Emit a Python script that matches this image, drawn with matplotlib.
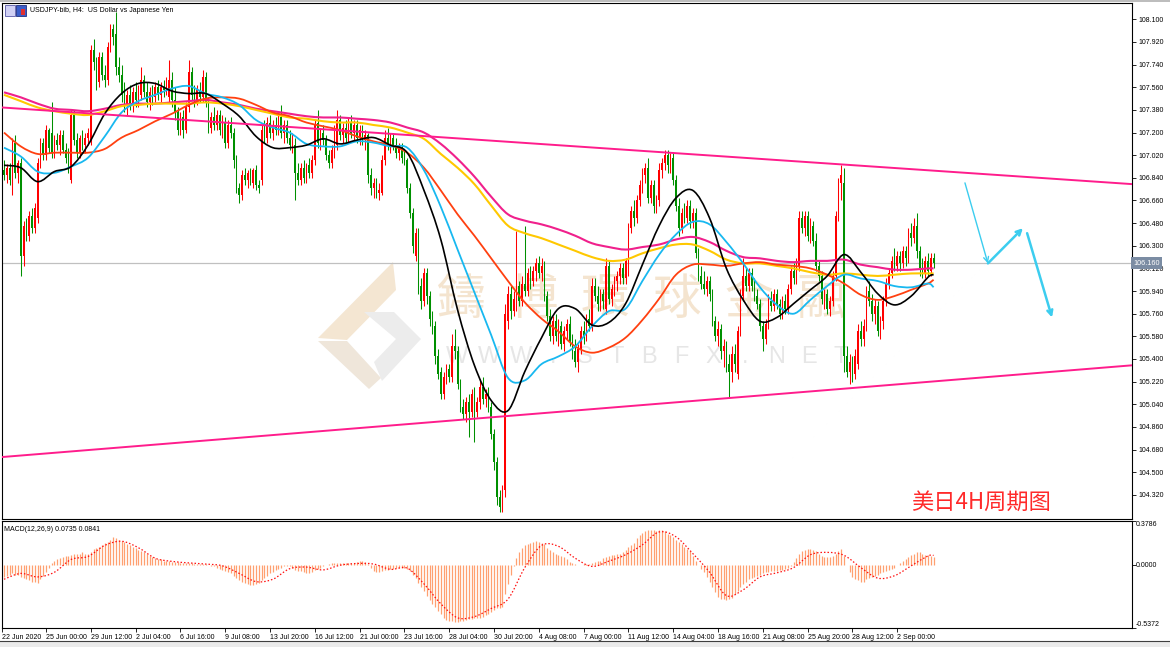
import matplotlib
matplotlib.use('Agg')
import matplotlib.pyplot as plt
import matplotlib.transforms as mtransforms
from matplotlib.patches import Rectangle, Polygon, PathPatch
from matplotlib.path import Path

plt.rcParams['font.family'] = ['Liberation Sans', 'DejaVu Sans']

# USDJPY H4 candles (bar 0 = left edge, 22 Jun)
opens = [
    106.90, 106.86, 106.92, 106.76, 107.12, 106.88, 106.96, 106.22, 106.46, 106.38,
    106.54, 106.44, 106.52, 106.96, 107.12, 107.02, 107.22, 107.20, 107.04, 107.14,
    107.10, 107.18, 107.06, 107.00, 106.82, 107.34, 107.14, 107.04, 107.16, 107.10,
    107.16, 107.14, 107.86, 107.76, 107.60, 107.80, 107.66, 107.62, 107.88, 108.02,
    107.98, 107.72, 107.66, 107.50, 107.42, 107.50, 107.42, 107.52, 107.46, 107.50,
    107.62, 107.52, 107.44, 107.52, 107.48, 107.56, 107.50, 107.56, 107.54, 107.48,
    107.62, 107.46, 107.36, 107.22, 107.32, 107.22, 107.40, 107.68, 107.50, 107.46,
    107.54, 107.48, 107.64, 107.44, 107.24, 107.32, 107.26, 107.34, 107.22, 107.28,
    107.12, 107.26, 107.20, 106.98, 106.76, 106.70, 106.86, 106.82, 106.88, 106.80,
    106.90, 106.78, 106.82, 107.22, 107.16, 107.28, 107.20, 107.26, 107.22, 107.32,
    107.20, 107.26, 107.16, 107.10, 107.10, 106.88, 106.82, 106.92, 106.84, 106.94,
    106.88, 106.98, 107.28, 107.12, 107.20, 107.14, 107.02, 106.96, 107.06, 107.10,
    107.30, 107.18, 107.24, 107.16, 107.28, 107.20, 107.26, 107.16, 107.22, 107.14,
    107.18, 106.86, 106.76, 106.80, 106.72, 106.72, 106.98, 107.16, 107.10, 107.16,
    107.10, 107.04, 107.08, 107.00, 106.98, 106.76, 106.56, 106.22, 106.40, 105.98,
    105.86, 106.08, 105.90, 105.72, 105.66, 105.42, 105.30, 105.12, 105.26, 105.32,
    105.26, 105.50, 105.46, 105.20, 105.02, 104.96, 105.06, 104.98, 105.12, 104.98,
    105.06, 105.18, 105.08, 105.12, 105.02, 104.80, 104.58, 104.30, 104.22, 104.36,
    105.70, 105.92, 105.78, 105.84, 105.98, 105.86, 106.00, 105.94, 106.08, 106.02,
    106.10, 106.16, 106.08, 106.14, 105.90, 105.74, 105.58, 105.70, 105.58, 105.66,
    105.52, 105.62, 105.68, 105.54, 105.46, 105.38, 105.48, 105.62, 105.58, 105.72,
    105.66, 105.98, 105.90, 105.84, 105.92, 105.80, 106.14, 105.88, 105.96, 106.02,
    106.06, 106.12, 106.04, 106.10, 106.44, 106.58, 106.52, 106.66, 106.78, 106.86,
    106.92, 106.68, 106.78, 106.62, 106.66, 106.90, 106.96, 107.02, 106.94, 107.00,
    106.82, 106.62, 106.44, 106.56, 106.52, 106.62, 106.50, 106.56, 106.24, 106.06,
    106.00, 105.96, 106.02, 105.92, 105.70, 105.58, 105.64, 105.46, 105.50, 105.36,
    105.30, 105.44, 105.28, 105.62, 105.90, 106.06, 105.98, 106.08, 105.98, 105.90,
    105.84, 105.66, 105.56, 105.68, 105.86, 105.82, 105.92, 105.84, 105.76, 105.86,
    105.80, 105.96, 106.10, 106.04, 106.14, 106.52, 106.44, 106.54, 106.38, 106.46,
    106.34, 106.14, 106.06, 105.88, 105.92, 105.80, 105.86, 106.06, 106.54, 106.80,
    106.80, 105.42, 105.30, 105.38, 105.28, 105.36, 105.62, 105.56, 105.66, 105.94,
    105.86, 105.76, 105.82, 105.62, 105.70, 105.86, 106.00, 106.08, 106.18, 106.14,
    106.22, 106.16, 106.26, 106.20, 106.40, 106.36, 106.46, 106.26, 106.12, 106.08,
    106.18, 106.10, 106.20,
]
highs = [
    106.98, 106.95, 106.96, 107.16, 107.18, 106.98, 107.00, 106.50, 106.52, 106.58,
    106.60, 106.64, 107.00, 107.16, 107.16, 107.26, 107.24, 107.44, 107.18, 107.20,
    107.22, 107.22, 107.12, 107.08, 107.38, 107.38, 107.20, 107.18, 107.22, 107.20,
    107.24, 107.90, 107.94, 107.80, 107.84, 107.84, 107.74, 107.92, 108.06, 108.06,
    108.16, 107.80, 107.74, 107.60, 107.54, 107.58, 107.56, 107.60, 107.58, 107.72,
    107.66, 107.60, 107.56, 107.58, 107.60, 107.62, 107.60, 107.62, 107.64, 107.78,
    107.68, 107.56, 107.40, 107.36, 107.38, 107.44, 107.78, 107.72, 107.58, 107.58,
    107.60, 107.70, 107.68, 107.48, 107.36, 107.40, 107.38, 107.38, 107.34, 107.32,
    107.30, 107.32, 107.24, 107.02, 106.80, 106.90, 106.92, 106.90, 106.92, 106.92,
    106.94, 106.82, 107.26, 107.30, 107.32, 107.34, 107.30, 107.32, 107.36, 107.42,
    107.30, 107.30, 107.22, 107.20, 107.16, 106.96, 106.96, 106.98, 106.96, 107.00,
    107.02, 107.30, 107.38, 107.24, 107.26, 107.18, 107.06, 107.10, 107.26, 107.38,
    107.34, 107.28, 107.30, 107.32, 107.34, 107.30, 107.30, 107.26, 107.26, 107.22,
    107.20, 106.92, 106.84, 106.84, 106.80, 107.02, 107.22, 107.24, 107.20, 107.20,
    107.16, 107.12, 107.12, 107.06, 107.00, 106.80, 106.60, 106.44, 106.44, 106.04,
    106.12, 106.12, 105.94, 105.78, 105.70, 105.48, 105.34, 105.30, 105.36, 105.36,
    105.60, 105.64, 105.50, 105.24, 105.08, 105.10, 105.12, 105.16, 105.18, 105.10,
    105.24, 105.26, 105.16, 105.18, 105.06, 104.84, 104.62, 104.36, 104.40, 105.84,
    105.98, 105.98, 105.94, 106.42, 106.02, 106.06, 106.46, 106.12, 106.14, 106.14,
    106.20, 106.22, 106.20, 106.18, 105.94, 105.80, 105.74, 105.76, 105.72, 105.70,
    105.66, 105.72, 105.74, 105.60, 105.56, 105.52, 105.66, 105.70, 105.76, 105.80,
    106.04, 106.04, 105.98, 105.96, 105.96, 106.20, 106.18, 106.00, 106.06, 106.10,
    106.16, 106.16, 106.20, 106.48, 106.62, 106.66, 106.70, 106.82, 106.92, 106.96,
    107.00, 106.82, 106.82, 106.70, 106.96, 107.00, 107.06, 107.06, 107.04, 107.04,
    106.86, 106.68, 106.60, 106.64, 106.66, 106.66, 106.60, 106.60, 106.28, 106.14,
    106.10, 106.06, 106.06, 105.96, 105.74, 105.70, 105.68, 105.56, 105.54, 105.44,
    105.50, 105.52, 105.66, 105.96, 106.20, 106.12, 106.12, 106.12, 106.04, 105.96,
    105.88, 105.70, 105.72, 105.92, 105.94, 105.96, 105.96, 105.88, 105.90, 105.92,
    106.00, 106.14, 106.16, 106.20, 106.58, 106.58, 106.58, 106.58, 106.52, 106.50,
    106.40, 106.18, 106.10, 105.96, 105.96, 105.90, 106.10, 106.58, 106.84, 106.94,
    106.92, 105.50, 105.44, 105.42, 105.48, 105.68, 105.70, 105.72, 105.98, 106.02,
    105.92, 105.88, 105.86, 105.74, 105.90, 106.04, 106.12, 106.22, 106.28, 106.26,
    106.26, 106.30, 106.30, 106.44, 106.48, 106.52, 106.56, 106.30, 106.20, 106.22,
    106.24, 106.24, 106.24,
]
lows = [
    106.82, 106.80, 106.78, 106.70, 106.84, 106.80, 106.06, 106.14, 106.34, 106.34,
    106.40, 106.40, 106.48, 106.92, 106.98, 106.98, 107.04, 107.00, 107.00, 107.06,
    107.02, 107.04, 106.96, 106.88, 106.80, 107.10, 107.00, 107.00, 107.06, 107.04,
    107.10, 107.10, 107.70, 107.54, 107.56, 107.62, 107.56, 107.58, 107.84, 107.90,
    107.66, 107.60, 107.44, 107.36, 107.34, 107.38, 107.36, 107.40, 107.40, 107.46,
    107.48, 107.40, 107.38, 107.42, 107.44, 107.46, 107.44, 107.48, 107.50, 107.44,
    107.40, 107.30, 107.18, 107.18, 107.16, 107.20, 107.36, 107.46, 107.40, 107.42,
    107.44, 107.44, 107.40, 107.20, 107.20, 107.22, 107.22, 107.18, 107.16, 107.08,
    107.08, 107.16, 106.92, 106.72, 106.64, 106.66, 106.78, 106.76, 106.78, 106.76,
    106.74, 106.72, 106.78, 107.12, 107.12, 107.16, 107.14, 107.18, 107.18, 107.16,
    107.12, 107.12, 107.06, 107.04, 106.66, 106.78, 106.78, 106.80, 106.80, 106.84,
    106.84, 106.94, 107.08, 107.06, 107.10, 106.98, 106.92, 106.92, 107.00, 107.06,
    107.14, 107.12, 107.12, 107.12, 107.16, 107.14, 107.12, 107.10, 107.10, 107.06,
    106.80, 106.70, 106.68, 106.68, 106.66, 106.70, 106.94, 107.06, 107.04, 107.06,
    107.00, 106.98, 106.96, 106.94, 106.72, 106.52, 106.24, 106.18, 105.92, 105.80,
    105.82, 105.84, 105.66, 105.60, 105.36, 105.24, 105.08, 105.08, 105.20, 105.22,
    105.22, 105.40, 105.16, 104.98, 104.92, 104.90, 104.78, 104.94, 104.74, 104.94,
    105.00, 105.04, 105.02, 104.98, 104.76, 104.52, 104.24, 104.18, 104.18, 104.30,
    105.64, 105.72, 105.74, 105.78, 105.82, 105.82, 105.90, 105.90, 105.96, 105.98,
    106.02, 106.04, 106.02, 105.86, 105.70, 105.54, 105.52, 105.54, 105.50, 105.48,
    105.46, 105.56, 105.50, 105.40, 105.34, 105.30, 105.44, 105.52, 105.54, 105.62,
    105.62, 105.86, 105.78, 105.78, 105.80, 105.76, 105.84, 105.82, 105.90, 105.94,
    106.00, 106.00, 106.00, 106.06, 106.40, 106.46, 106.48, 106.62, 106.72, 106.80,
    106.64, 106.64, 106.56, 106.56, 106.62, 106.84, 106.90, 106.88, 106.88, 106.78,
    106.58, 106.38, 106.40, 106.48, 106.48, 106.44, 106.44, 106.20, 106.02, 105.96,
    105.92, 105.90, 105.86, 105.66, 105.54, 105.50, 105.40, 105.34, 105.30, 105.10,
    105.22, 105.30, 105.24, 105.58, 105.86, 105.94, 105.94, 105.94, 105.86, 105.80,
    105.62, 105.46, 105.52, 105.64, 105.78, 105.78, 105.80, 105.72, 105.72, 105.76,
    105.76, 105.92, 106.00, 106.00, 106.10, 106.40, 106.38, 106.34, 106.32, 106.30,
    106.10, 106.02, 105.84, 105.80, 105.76, 105.74, 105.82, 106.02, 106.50, 106.66,
    105.30, 105.26, 105.20, 105.22, 105.24, 105.32, 105.50, 105.50, 105.62, 105.82,
    105.70, 105.68, 105.58, 105.56, 105.64, 105.82, 105.96, 106.04, 106.10, 106.10,
    106.10, 106.12, 106.14, 106.16, 106.30, 106.32, 106.20, 106.06, 106.04, 106.04,
    106.06, 106.06, 106.12,
]
closes = [
    106.86, 106.92, 106.82, 107.12, 106.88, 106.96, 106.22, 106.46, 106.38, 106.54,
    106.44, 106.60, 106.96, 107.12, 107.02, 107.22, 107.08, 107.04, 107.14, 107.10,
    107.18, 107.06, 107.00, 106.94, 107.34, 107.14, 107.04, 107.16, 107.10, 107.16,
    107.20, 107.86, 107.76, 107.60, 107.80, 107.66, 107.62, 107.88, 108.02, 107.96,
    107.72, 107.66, 107.50, 107.42, 107.50, 107.42, 107.52, 107.46, 107.54, 107.62,
    107.52, 107.44, 107.52, 107.48, 107.56, 107.50, 107.56, 107.54, 107.60, 107.62,
    107.46, 107.36, 107.22, 107.32, 107.22, 107.40, 107.68, 107.50, 107.46, 107.54,
    107.48, 107.64, 107.44, 107.24, 107.32, 107.26, 107.34, 107.22, 107.28, 107.12,
    107.26, 107.20, 106.98, 106.76, 106.70, 106.86, 106.82, 106.88, 106.80, 106.90,
    106.78, 106.76, 107.22, 107.16, 107.28, 107.20, 107.26, 107.22, 107.32, 107.20,
    107.26, 107.16, 107.10, 107.16, 106.88, 106.82, 106.92, 106.84, 106.94, 106.88,
    106.98, 107.26, 107.12, 107.20, 107.14, 107.02, 106.96, 107.06, 107.22, 107.30,
    107.18, 107.24, 107.16, 107.28, 107.20, 107.26, 107.16, 107.22, 107.14, 107.18,
    106.86, 106.76, 106.80, 106.72, 106.74, 106.98, 107.16, 107.10, 107.16, 107.10,
    107.04, 107.08, 107.00, 106.98, 106.76, 106.56, 106.30, 106.40, 105.98, 105.86,
    106.08, 105.90, 105.72, 105.66, 105.42, 105.28, 105.12, 105.26, 105.32, 105.26,
    105.50, 105.46, 105.20, 105.02, 104.96, 105.06, 104.98, 105.12, 104.98, 105.06,
    105.18, 105.08, 105.12, 105.02, 104.80, 104.58, 104.30, 104.22, 104.30, 105.76,
    105.92, 105.78, 105.88, 105.98, 105.86, 106.00, 105.94, 106.08, 106.02, 106.10,
    106.16, 106.08, 106.14, 105.90, 105.74, 105.58, 105.70, 105.58, 105.66, 105.52,
    105.62, 105.68, 105.54, 105.46, 105.38, 105.48, 105.62, 105.58, 105.72, 105.66,
    105.98, 105.90, 105.84, 105.92, 105.86, 106.14, 105.88, 105.96, 106.02, 106.06,
    106.12, 106.04, 106.18, 106.44, 106.58, 106.52, 106.66, 106.78, 106.88, 106.92,
    106.68, 106.78, 106.62, 106.66, 106.90, 106.96, 107.02, 106.94, 107.00, 106.82,
    106.62, 106.44, 106.56, 106.52, 106.62, 106.50, 106.56, 106.24, 106.06, 106.00,
    105.96, 106.02, 105.92, 105.70, 105.58, 105.64, 105.46, 105.50, 105.36, 105.30,
    105.44, 105.36, 105.62, 105.90, 106.06, 105.98, 106.08, 105.98, 105.90, 105.84,
    105.66, 105.56, 105.68, 105.86, 105.82, 105.92, 105.84, 105.76, 105.86, 105.80,
    105.96, 106.10, 106.04, 106.16, 106.52, 106.44, 106.54, 106.38, 106.46, 106.34,
    106.14, 106.06, 105.88, 105.92, 105.80, 105.86, 106.06, 106.54, 106.80, 106.86,
    105.42, 105.30, 105.38, 105.28, 105.42, 105.62, 105.56, 105.66, 105.94, 105.86,
    105.76, 105.82, 105.62, 105.70, 105.86, 106.00, 106.08, 106.18, 106.14, 106.22,
    106.16, 106.26, 106.20, 106.40, 106.36, 106.46, 106.26, 106.12, 106.08, 106.18,
    106.10, 106.20, 106.16,
]

# moving averages and MACD signal, read every 6 bars
ma_idx = list(range(0, 331, 6)) + [332]
ma_black = [106.94, 106.92, 106.81, 106.89, 106.93, 107.10, 107.35, 107.51, 107.59, 107.59,
            107.53, 107.51, 107.51, 107.43, 107.33, 107.17, 107.08, 107.08, 107.10, 107.15,
            107.11, 107.14, 107.16, 107.10, 107.04, 106.74, 106.35, 105.79, 105.35, 105.07,
            104.99, 105.30, 105.57, 105.80, 105.80, 105.67, 105.69, 105.84, 106.15, 106.46,
            106.68, 106.74, 106.52, 106.12, 105.87, 105.70, 105.73, 105.84, 105.95, 106.06,
            106.23, 106.09, 105.92, 105.83, 105.90, 106.05, 106.07]
ma_cyan = [107.08, 107.01, 106.89, 106.88, 106.93, 107.00, 107.17, 107.36, 107.45, 107.50,
           107.55, 107.57, 107.51, 107.48, 107.42, 107.30, 107.24, 107.20, 107.11, 107.09,
           107.09, 107.13, 107.12, 107.09, 107.08, 106.90, 106.61, 106.27, 105.93, 105.59,
           105.25, 105.23, 105.36, 105.42, 105.50, 105.66, 105.78, 105.80, 106.02, 106.23,
           106.39, 106.49, 106.47, 106.33, 106.16, 105.97, 105.83, 105.76, 105.87, 105.98,
           106.07, 106.04, 106.02, 105.98, 105.97, 106.00, 105.97]
ma_orange = [107.20, 107.09, 107.03, 107.04, 107.04, 107.04, 107.07, 107.16, 107.22, 107.29,
             107.35, 107.42, 107.47, 107.48, 107.47, 107.42, 107.36, 107.33, 107.28, 107.25,
             107.22, 107.17, 107.13, 107.10, 107.04, 106.92, 106.74, 106.55, 106.38, 106.20,
             106.02, 105.85, 105.72, 105.62, 105.50, 105.45, 105.49, 105.57, 105.71, 105.88,
             106.07, 106.15, 106.15, 106.14, 106.16, 106.17, 106.15, 106.14, 106.12, 106.07,
             106.00, 105.91, 105.87, 105.90, 105.95, 106.00, 106.03]
ma_yellow = [107.50, 107.45, 107.40, 107.37, 107.35, 107.34, 107.37, 107.41, 107.42, 107.43,
             107.43, 107.43, 107.44, 107.43, 107.41, 107.38, 107.35, 107.32, 107.31, 107.29,
             107.28, 107.28, 107.26, 107.24, 107.20, 107.15, 107.03, 106.92, 106.79, 106.62,
             106.46, 106.40, 106.36, 106.31, 106.26, 106.21, 106.18, 106.19, 106.24, 106.28,
             106.31, 106.31, 106.26, 106.19, 106.16, 106.16, 106.14, 106.12, 106.09, 106.07,
             106.08, 106.07, 106.06, 106.07, 106.08, 106.08, 106.08]
ma_magenta = [107.52, 107.48, 107.43, 107.39, 107.38, 107.37, 107.39, 107.42, 107.43, 107.43,
              107.44, 107.45, 107.46, 107.44, 107.42, 107.39, 107.37, 107.35, 107.33, 107.32,
              107.32, 107.31, 107.30, 107.28, 107.24, 107.20, 107.11, 106.99, 106.85, 106.69,
              106.55, 106.50, 106.47, 106.43, 106.38, 106.32, 106.29, 106.27, 106.29, 106.31,
              106.35, 106.37, 106.33, 106.26, 106.21, 106.20, 106.18, 106.17, 106.18, 106.18,
              106.19, 106.15, 106.13, 106.11, 106.11, 106.12, 106.12]
macd_signal = [-0.12, -0.07, -0.10, -0.06, 0.05, 0.075, 0.17, 0.205, 0.15, 0.06,
               0.033, 0.02, 0.01, -0.005, -0.07, -0.14, -0.12, -0.03, -0.016, -0.04,
               0.0, 0.015, 0.01, -0.035, -0.025, -0.16, -0.33, -0.45, -0.44, -0.37,
               -0.29, -0.02, 0.17, 0.162, 0.06, -0.01, 0.035, 0.09, 0.175, 0.285,
               0.243, 0.10, -0.06, -0.26, -0.21, -0.10, -0.065, -0.02, 0.09, 0.11,
               0.085, -0.02, -0.11, -0.09, -0.005, 0.08, 0.084]

# MACD(12,26,9) main line, one value per bar
macd_main = [
    -0.10, -0.09, -0.08, -0.07, -0.08, -0.08, -0.10, -0.11, -0.12, -0.13,
    -0.14, -0.14, -0.15, -0.12, -0.09, -0.06, -0.02, 0.02, 0.04, 0.05,
    0.06, 0.07, 0.08, 0.08, 0.09, 0.10, 0.10, 0.10, 0.11, 0.10,
    0.10, 0.11, 0.14, 0.15, 0.16, 0.17, 0.19, 0.20, 0.22, 0.24,
    0.23, 0.22, 0.21, 0.20, 0.18, 0.17, 0.16, 0.15, 0.13, 0.12,
    0.11, 0.10, 0.08, 0.07, 0.06, 0.05, 0.05, 0.04, 0.04, 0.04,
    0.03, 0.03, 0.03, 0.02, 0.02, 0.02, 0.02, 0.02, 0.01, 0.01,
    0.01, 0.01, 0.01, 0.00, -0.01, -0.01, -0.02, -0.03, -0.04, -0.05,
    -0.06, -0.07, -0.09, -0.11, -0.13, -0.14, -0.15, -0.16, -0.17, -0.17,
    -0.16, -0.15, -0.13, -0.11, -0.09, -0.07, -0.06, -0.04, -0.03, -0.02,
    -0.01, -0.01, -0.01, -0.02, -0.04, -0.05, -0.05, -0.06, -0.07, -0.07,
    -0.06, -0.04, -0.03, -0.02, -0.01, 0.00, 0.01, 0.02, 0.02, 0.02,
    0.02, 0.02, 0.02, 0.02, 0.02, 0.02, 0.03, 0.04, 0.04, 0.03,
    0.01, -0.02, -0.05, -0.06, -0.06, -0.05, -0.04, -0.04, -0.03, -0.03,
    -0.02, -0.02, -0.02, -0.02, -0.03, -0.05, -0.08, -0.11, -0.15, -0.19,
    -0.22, -0.26, -0.30, -0.33, -0.36, -0.39, -0.42, -0.45, -0.47, -0.48,
    -0.48, -0.49, -0.49, -0.48, -0.48, -0.47, -0.46, -0.46, -0.45, -0.45,
    -0.45, -0.44, -0.43, -0.42, -0.40, -0.38, -0.37, -0.37, -0.36, -0.25,
    -0.16, -0.08, -0.01, 0.06, 0.11, 0.15, 0.17, 0.18, 0.19, 0.20,
    0.21, 0.20, 0.19, 0.18, 0.15, 0.13, 0.11, 0.10, 0.09, 0.08,
    0.07, 0.05, 0.03, 0.02, 0.01, 0.00, 0.00, 0.01, 0.01, 0.01,
    0.02, 0.03, 0.04, 0.04, 0.06, 0.07, 0.08, 0.09, 0.09, 0.10,
    0.10, 0.11, 0.13, 0.16, 0.17, 0.19, 0.23, 0.26, 0.28, 0.29,
    0.30, 0.30, 0.30, 0.29, 0.30, 0.30, 0.29, 0.27, 0.26, 0.24,
    0.22, 0.20, 0.18, 0.16, 0.14, 0.12, 0.08, 0.04, 0.00, -0.03,
    -0.06, -0.10, -0.14, -0.19, -0.23, -0.27, -0.29, -0.29, -0.30, -0.29,
    -0.28, -0.25, -0.22, -0.19, -0.16, -0.14, -0.12, -0.11, -0.10, -0.09,
    -0.08, -0.07, -0.06, -0.06, -0.05, -0.05, -0.05, -0.04, -0.04, -0.03,
    -0.02, -0.01, 0.03, 0.06, 0.10, 0.12, 0.13, 0.14, 0.14, 0.13,
    0.12, 0.10, 0.08, 0.07, 0.07, 0.07, 0.08, 0.10, 0.12, 0.14,
    0.08, 0.00, -0.06, -0.10, -0.12, -0.13, -0.14, -0.14, -0.12, -0.11,
    -0.10, -0.09, -0.08, -0.07, -0.06, -0.05, -0.04, -0.03, -0.02, 0.00,
    0.02, 0.04, 0.05, 0.07, 0.09, 0.10, 0.11, 0.11, 0.10, 0.09,
    0.09, 0.08, 0.07,
]

# channel lines (bar, price) and the hand drawn forecast arrows
upper_line_bar = [-1, 403]
upper_line_price = [107.40, 106.79]
lower_line_bar = [-1, 403]
lower_line_price = [104.62, 105.35]
fc_from_bar = [343.2, 351.4, 365.4]
fc_from_price = [106.80, 106.16, 106.40]
fc_to_bar = [351.4, 363.9, 374.3]
fc_to_price = [106.16, 106.44, 105.73]

time_labels = ['22 Jun 2020', '25 Jun 00:00', '29 Jun 12:00', '2 Jul 04:00', '6 Jul 16:00',
               '9 Jul 08:00', '13 Jul 20:00', '16 Jul 12:00', '21 Jul 00:00', '23 Jul 16:00',
               '28 Jul 04:00', '30 Jul 20:00', '4 Aug 08:00', '7 Aug 00:00', '11 Aug 12:00',
               '14 Aug 04:00', '18 Aug 16:00', '21 Aug 08:00', '25 Aug 20:00', '28 Aug 12:00',
               '2 Sep 00:00']
time_label_bars = [-0.6] + [15 + 16 * k for k in range(20)]

W, H = 1170, 647
fig = plt.figure(figsize=(W / 100, H / 100), dpi=100)


def fpt(x, y):
    return (x / W, 1 - y / H)


def curve_through(ax, xv, yv, **kw):
    # draw a smooth bezier curve that passes through the read points
    pts = list(zip(xv, yv))
    verts = [pts[0]]
    codes = [Path.MOVETO]
    for i in range(len(pts) - 1):
        p0 = pts[i - 1] if i > 0 else pts[i]
        p1, p2 = pts[i], pts[i + 1]
        p3 = pts[i + 2] if i + 2 < len(pts) else pts[i + 1]
        c1 = (p1[0] + (p2[0] - p0[0]) / 6, p1[1] + (p2[1] - p0[1]) / 6)
        c2 = (p2[0] - (p3[0] - p1[0]) / 6, p2[1] - (p3[1] - p1[1]) / 6)
        verts += [c1, c2, p2]
        codes += [Path.CURVE4] * 3
    ax.add_patch(PathPatch(Path(verts, codes), fill=False, **kw))


ax1 = fig.add_axes([2 / W, 1 - 519 / H, 1130 / W, 516 / H])
ax2 = fig.add_axes([2 / W, 1 - 628 / H, 1130 / W, 107 / H])
x_lo, x_hi = -0.714, 402.86

# candles: red = up, green = down
n = len(closes)
xs = list(range(n))
cols = ['#FF0000' if closes[i] >= opens[i] else '#009000' for i in xs]
ax1.vlines(xs, lows, highs, colors=cols, lw=0.75, zorder=2)
body_h = [max(abs(closes[i] - opens[i]), 0.012) for i in xs]
body_b = [min(closes[i], opens[i]) for i in xs]
ax1.bar(xs, body_h, bottom=body_b, width=0.6, color=cols, lw=0, zorder=2.1)

curve_through(ax1, ma_idx, ma_magenta, edgecolor='#F0208C', lw=1.5, zorder=4)
curve_through(ax1, ma_idx, ma_yellow, edgecolor='#FFC800', lw=1.5, zorder=4)
curve_through(ax1, ma_idx, ma_orange, edgecolor='#FF4010', lw=1.3, zorder=4)
curve_through(ax1, ma_idx, ma_cyan, edgecolor='#18B8F0', lw=1.3, zorder=4)
curve_through(ax1, ma_idx, ma_black, edgecolor='black', lw=1.2, zorder=4)

ax1.plot(upper_line_bar, upper_line_price, color='#FF1C8C', lw=1.4, zorder=4)
ax1.plot(lower_line_bar, lower_line_price, color='#FF1C8C', lw=1.4, zorder=4)

for k in range(len(fc_from_bar)):
    ax1.annotate('', xy=(fc_to_bar[k], fc_to_price[k]),
                 xytext=(fc_from_bar[k], fc_from_price[k]),
                 arrowprops=dict(arrowstyle='->', color='#3CCDEF',
                                 lw=1.0 if k == 0 else 1.8, mutation_scale=9,
                                 shrinkA=0, shrinkB=0), zorder=5)

last = closes[-1]
ax1.axhline(last, color='#C0C0C0', lw=0.9, zorder=1.5)

# watermark
logo = [
    ([(318, 338), (393, 262), (396, 290), (347, 340)], '#F4E6D2'),
    ([(364, 312), (394, 312), (421, 339), (382, 381), (374, 362), (396, 339)], '#ECECEC'),
    ([(318, 341), (347, 341), (381, 378), (369, 389)], '#EFE6DA'),
]
for pts, c in logo:
    ax1.add_patch(Polygon([fpt(x, y) for x, y in pts], closed=True, facecolor=c,
                          edgecolor='none', transform=fig.transFigure, zorder=1))
for k, ch in enumerate('鑄博環球金融'):
    ax1.text(*fpt(461 + 72 * k, 300), ch, transform=fig.transFigure, ha='center', va='center',
             fontsize=35, color='#F4E4CF', family=['Noto Sans CJK TC', 'DejaVu Sans'], zorder=1)
for k, ch in enumerate('WWW.STBFX.NET'):
    ax1.text(*fpt(457 + 32 * k, 357), ch, transform=fig.transFigure, ha='center', va='center',
             fontsize=17, color='#E6E6E6', zorder=1)

# header and caption
ax1.add_patch(Rectangle(fpt(5, 16), 10 / W, 11 / H, facecolor='#D0D0F4', edgecolor='#5A5AA8',
                        lw=0.6, transform=fig.transFigure, zorder=6))
ax1.add_patch(Rectangle(fpt(16, 16), 10 / W, 11 / H, facecolor='#3A5CC8', edgecolor='#203080',
                        lw=0.6, transform=fig.transFigure, zorder=6))
ax1.add_patch(Rectangle(fpt(21, 15), 4 / W, 6 / H, facecolor='#E03030', edgecolor='none',
                        transform=fig.transFigure, zorder=7))
ax1.text(*fpt(30, 10), 'USDJPY-bib, H4:  US Dollar vs Japanese Yen', transform=fig.transFigure,
         ha='left', va='center', fontsize=5, color='black', zorder=6)
ax1.text(*fpt(911, 502), '美日4H周期图', transform=fig.transFigure, ha='left', va='center',
         fontsize=16, color='#FF2A2A', family=['Noto Sans CJK SC', 'DejaVu Sans'], zorder=6)

ax1.set_xlim(x_lo, x_hi)
ax1.set_ylim(104.128, 108.230)
ax1.set_xticks([])
ax1.yaxis.tick_right()
price_ticks = [round(104.32 + 0.18 * k, 2) for k in range(22)]
ax1.set_yticks(price_ticks)
ax1.set_yticklabels([f'{p:.3f}' for p in price_ticks])
ax1.tick_params(axis='y', labelsize=5, length=3, width=0.6, pad=1.5)

blend1 = mtransforms.blended_transform_factory(ax1.transAxes, ax1.transData)
ax1.text(1.0012, last, f'{last:.3f}', transform=blend1, ha='left', va='center', fontsize=5.2,
         color='white', zorder=8, clip_on=False,
         bbox=dict(boxstyle='square,pad=0.35', facecolor='#7B8CA3', edgecolor='none'))

# MACD pane
ax2.vlines(xs, 0, macd_main, colors='#FFA070', lw=0.9, zorder=2)
curve_through(ax2, ma_idx, macd_signal, edgecolor='#FF1010', lw=0.9,
              linestyle=(0, (1.2, 1.6)), zorder=3)
ax2.set_xlim(x_lo, x_hi)
ax2.set_ylim(-0.5372, 0.3786)
ax2.yaxis.tick_right()
ax2.set_yticks([0.3786, 0.0, -0.5372])
ax2.set_yticklabels(['', '', ''])
ax2.tick_params(axis='y', length=3, width=0.6)
blend2 = mtransforms.blended_transform_factory(ax2.transAxes, ax2.transData)
for val, txt, va in [(0.3786, '0.3786', 'top'), (0.0, '0.0000', 'center'),
                     (-0.5372, '-0.5372', 'bottom')]:
    ax2.text(1.003, val, txt, transform=blend2, ha='left', va=va, fontsize=5, clip_on=False)
ax2.text(0.002, 0.95, 'MACD(12,26,9) 0.0735 0.0841', transform=ax2.transAxes, ha='left',
         va='top', fontsize=5)
ax2.set_xticks(time_label_bars)
ax2.set_xticklabels(time_labels, ha='left', fontsize=5)
ax2.tick_params(axis='x', length=3, width=0.6, pad=1.5)

for ax in (ax1, ax2):
    for s in ax.spines.values():
        s.set_color('black')
        s.set_linewidth(0.8)

# window frame bits
fig.patches.append(Rectangle((0, 0), 1, 6 / H, facecolor='#EBEBEB', edgecolor='none',
                             transform=fig.transFigure))
fig.add_artist(plt.Line2D([0, 1], [6 / H, 6 / H], color='#404040', lw=0.8,
                          transform=fig.transFigure))
fig.add_artist(plt.Line2D([0, 1], [1 - 1 / H, 1 - 1 / H], color='#B0B0B0', lw=1.2,
                          transform=fig.transFigure))

fig.savefig('out.png', dpi=100, facecolor='white')
